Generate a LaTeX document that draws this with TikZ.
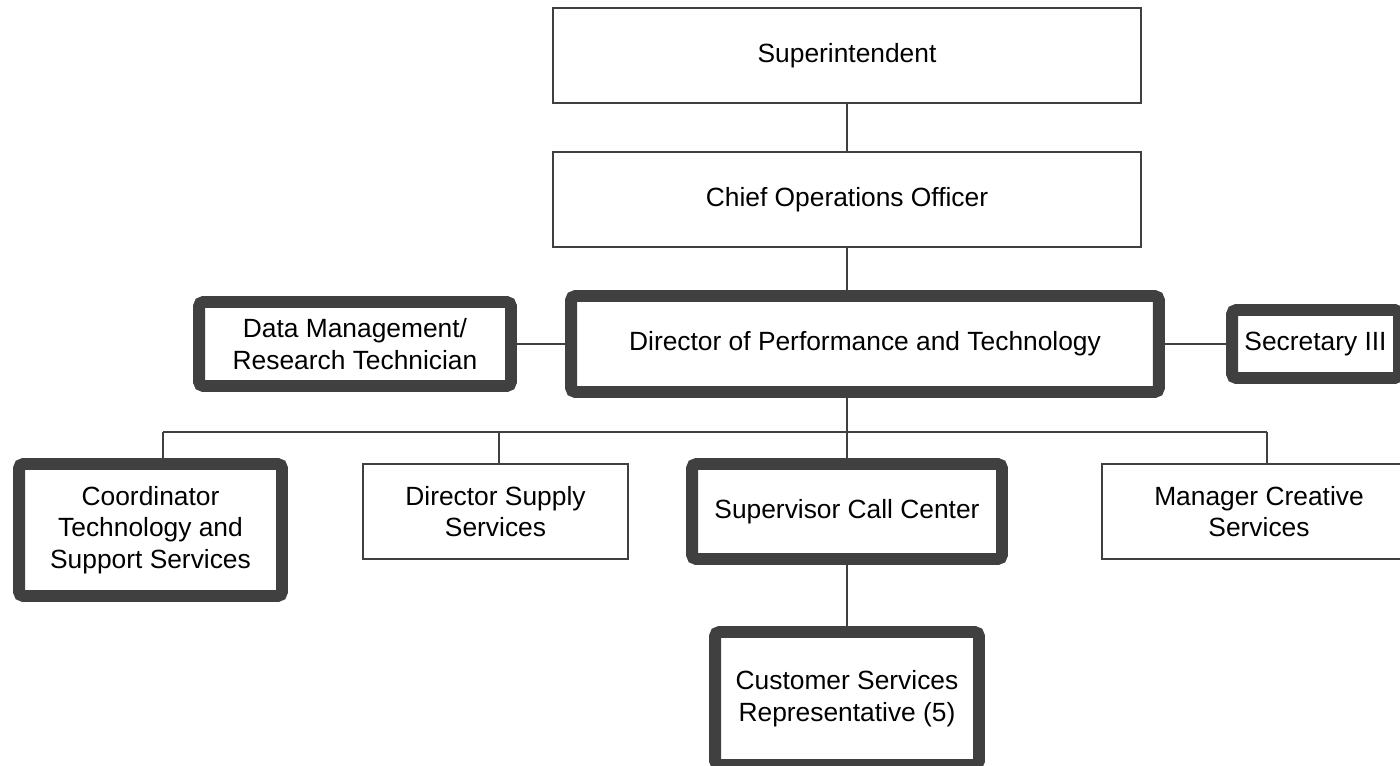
\documentclass[tikz,border=0pt]{standalone}
\usepackage{fontspec}
\setmainfont{Liberation Sans}
\definecolor{boxline}{HTML}{404040}
\tikzset{
  orgbox/.style={rectangle,draw=boxline,line width=1.1pt,fill=white,align=center,
    font=\fontsize{15}{18}\selectfont,inner sep=0pt},
  keybox/.style={orgbox,line width=6.8pt,rounded corners=2.5pt},
  link/.style={draw=boxline,line width=1.1pt}
}
\begin{document}
\begin{tikzpicture}[x=0.02cm,y=-0.02cm]
  \useasboundingbox (0,0) rectangle (1400,765);

  % plain boxes
  \begin{scope}[every node/.style={orgbox}]
    \node[minimum width=11.76cm,minimum height=1.9cm] (sup)      at (847,55.5)   {Superintendent};
    \node[minimum width=11.76cm,minimum height=1.9cm] (coo)      at (847,199.5)  {Chief Operations Officer};
    \node[minimum width=5.3cm,minimum height=1.9cm]   (supply)   at (495.5,511.5){Director Supply\\Services};
    \node[minimum width=6.28cm,minimum height=1.9cm]  (creative) at (1259,511.5) {Manager Creative\\Services};
  \end{scope}

  % heavy boxes
  \begin{scope}[every node/.style={keybox}]
    \node[minimum width=11.76cm,minimum height=1.92cm] (dir)   at (865,344)    {Director of Performance and Technology};
    \node[minimum width=6.24cm,minimum height=1.68cm]  (data)  at (355,344)    {Data Management/\\Research Technician};
    \node[minimum width=3.34cm,minimum height=1.36cm]  (sec)   at (1315.5,344) {Secretary III};
    \node[minimum width=5.26cm,minimum height=2.64cm]  (coord) at (150.5,530)  {Coordinator\\Technology and\\Support Services};
    \node[minimum width=6.2cm,minimum height=1.9cm]    (call)  at (847,511.5)  {Supervisor Call Center};
    \node[minimum width=5.28cm,minimum height=2.66cm]  (csr)   at (847,698.5)  {Customer Services\\Representative (5)};
  \end{scope}

  % bus points
  \coordinate (bus)  at (847,432);
  \coordinate (busl) at (163,432);
  \coordinate (bus2) at (499,432);
  \coordinate (busr) at (1267,432);

  \begin{scope}[every path/.style={link}]
    \path (sup.south) edge (coo.north);
    \path (coo.south) edge (coo.south |- dir.north);
    \path (data.east) edge (data.east -| dir.west);
    \path (dir.east)  edge (dir.east -| sec.west);
    \path (coo.south |- dir.south) edge (bus);
    \path (busl) edge (busr);
    \path (busl) edge (busl |- coord.north);
    \path (bus2) edge (bus2 |- supply.north);
    \path (bus)  edge (call.north);
    \path (busr) edge (busr |- creative.north);
    \path (call.south) edge (csr.north);
  \end{scope}
\end{tikzpicture}
\end{document}
